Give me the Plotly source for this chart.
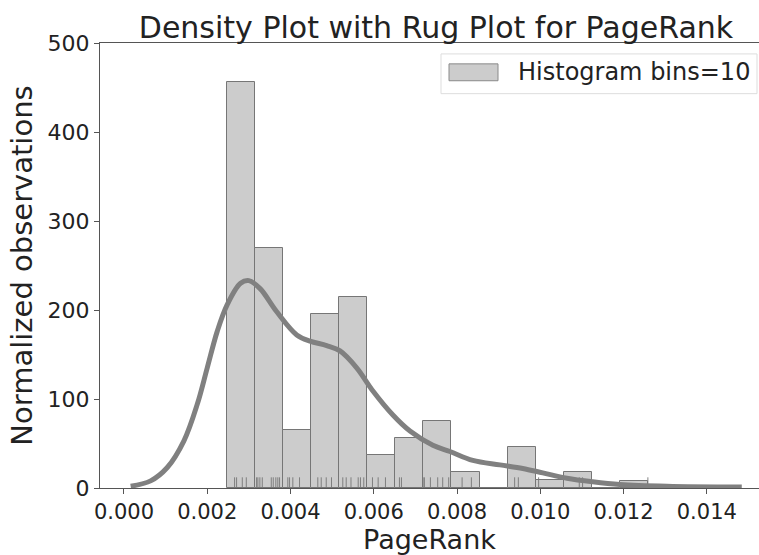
import plotly.graph_objects as go

# ---------------- data ----------------
bin_edges = [0.002465, 0.003140, 0.003815, 0.004490, 0.005165, 0.005840,
             0.006515, 0.007190, 0.007865, 0.008540, 0.009215, 0.009890,
             0.010565, 0.011240, 0.011915, 0.012590]
hist_density = [456, 270, 65, 195, 215, 37, 56, 75, 18, 0, 46, 9, 18, 0, 8]

kde_x = [0.00016, 0.00064, 0.00104, 0.00144, 0.00176, 0.00200, 0.00224, 0.00248,
         0.00280, 0.00300, 0.00327, 0.00367, 0.00415, 0.00447, 0.00487, 0.00519,
         0.00559, 0.00598, 0.00646, 0.00687, 0.00742, 0.00783, 0.00838, 0.00903,
         0.00958, 0.01006, 0.01064, 0.01126, 0.01191, 0.01304, 0.01484]
kde_y = [2, 8, 23, 53, 94, 135, 176, 206, 230, 233, 224, 198, 172, 165, 160, 154,
         135, 109, 82, 64, 48, 41, 31, 26, 22, 17, 11, 7, 4, 2, 1]

rug_values = [0.002657, 0.002705, 0.002842, 0.002938, 0.003185, 0.003216, 0.003264,
              0.003322, 0.003538, 0.003586, 0.003648, 0.003696, 0.003737, 0.003936,
              0.003977, 0.004056, 0.004217, 0.004656, 0.004738, 0.004858, 0.004985,
              0.005256, 0.005338, 0.005453, 0.005626, 0.005681, 0.005760, 0.005969,
              0.006106, 0.006281, 0.006617, 0.006665, 0.007186, 0.007217, 0.007361,
              0.007536, 0.007656, 0.007800, 0.008122, 0.008345, 0.009384, 0.009473,
              0.009960, 0.010937, 0.011016, 0.012585]
rug_height = 12

x_ticks = [0.000, 0.002, 0.004, 0.006, 0.008, 0.010, 0.012, 0.014]
y_ticks = [0, 100, 200, 300, 400, 500]

title_text = "Density Plot with Rug Plot for PageRank"
x_label = "PageRank"
y_label = "Normalized observations"
legend_label = "Histogram bins=10"

# ---------------- figure ----------------
W, H = 759, 555
ML, MR, MT, MB = 100, 0, 43, 64
FONT = "DejaVu Sans"
TXT = "#222222"

centers = [(a + b) / 2 for a, b in zip(bin_edges[:-1], bin_edges[1:])]
widths = [b - a for a, b in zip(bin_edges[:-1], bin_edges[1:])]

fig = go.Figure()
fig.add_trace(go.Bar(
    x=centers, y=hist_density, width=widths,
    marker=dict(color="#cccccc", line=dict(color="#767676", width=1)),
    name=legend_label, showlegend=False, hoverinfo="x+y"))

rx, ry = [], []
for v in rug_values:
    rx += [v, v, None]
    ry += [0, rug_height, None]
fig.add_trace(go.Scatter(x=rx, y=ry, mode="lines",
                         line=dict(color="#777777", width=1),
                         opacity=0.9, showlegend=False, hoverinfo="skip"))

fig.add_trace(go.Scatter(x=kde_x, y=kde_y, mode="lines",
                         line=dict(color="#808080", width=5, shape="spline",
                                   smoothing=1.0),
                         showlegend=False))

PW = W - ML - MR
PH = H - MT - MB


def px(x):
    return (x - ML) / PW


def py(y):
    return (H - MB - y) / PH


shapes = [
    dict(type="rect", xref="paper", yref="paper",
         x0=px(441), x1=px(757), y0=py(94), y1=py(54),
         line=dict(color="#dddddd", width=1), fillcolor="rgba(255,255,255,0.8)",
         layer="above"),
    dict(type="rect", xref="paper", yref="paper",
         x0=px(449), x1=px(498), y0=py(81), y1=py(64),
         line=dict(color="#8a8a8a", width=1), fillcolor="#cccccc", layer="above"),
]
annotations = [
    dict(text=legend_label, xref="paper", yref="paper", x=px(516), y=py(72.5),
         xanchor="left", yanchor="middle", showarrow=False,
         font=dict(family=FONT, size=24, color=TXT)),
]

fig.update_layout(
    width=W, height=H,
    margin=dict(l=ML, r=MR, t=MT, b=MB),
    plot_bgcolor="white", paper_bgcolor="white",
    bargap=0,
    title=dict(text=title_text, x=436 / W, xanchor="center", xref="container",
               y=1 - 27 / H, yanchor="middle", yref="container",
               font=dict(family=FONT, size=30, color=TXT)),
    xaxis=dict(range=[-0.000576, 0.015254], tickvals=x_ticks,
               ticktext=[f"{v:.3f}" for v in x_ticks],
               showline=True, linecolor="#555555", linewidth=1.2, mirror=True,
               ticks="outside", ticklen=5, tickcolor="#555555",
               showgrid=False, zeroline=False,
               tickfont=dict(family=FONT, size=21, color=TXT),
               title=dict(text=x_label, standoff=12,
                          font=dict(family=FONT, size=27, color=TXT))),
    yaxis=dict(range=[0, 500], tickvals=y_ticks,
               showline=True, linecolor="#555555", linewidth=1.2,
               ticks="outside", ticklen=5, tickcolor="#555555",
               showgrid=False, zeroline=False,
               tickfont=dict(family=FONT, size=22, color=TXT),
               title=dict(text=y_label, standoff=6,
                          font=dict(family=FONT, size=29, color=TXT))),
    shapes=shapes, annotations=annotations,
    showlegend=False,
)

fig.write_html("out.html")
